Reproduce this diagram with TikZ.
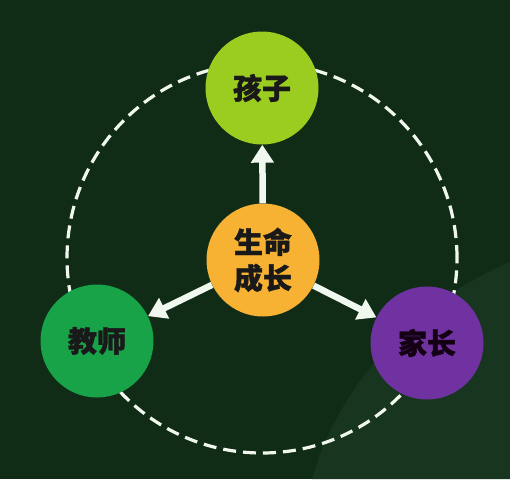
\documentclass[tikz,border=0pt]{standalone}
\usepackage{fontspec}
\newfontfamily\cjk{Noto Sans CJK SC}[BoldFeatures={FakeBold=1.2}]
\usetikzlibrary{arrows.meta}
\definecolor{bgdark}{RGB}{16,44,23}
\definecolor{bglight}{RGB}{24,54,31}
\definecolor{childc}{RGB}{155,205,32}
\definecolor{growthc}{RGB}{247,178,52}
\definecolor{teacherc}{RGB}{24,163,72}
\definecolor{parentc}{RGB}{112,50,160}
\definecolor{linkc}{RGB}{240,247,238}

\begin{document}
\begin{tikzpicture}[
    x=1pt, y=-1pt,
    role/.style={circle, minimum size=113pt, inner sep=0pt, text=black!90, align=center,
        font=\cjk\bfseries\fontsize{29}{36}\selectfont},
    link/.style={-{Triangle[width=22pt,length=18pt]}, line width=6.5pt, linkc},
    ring/.style={dash pattern=on 13pt off 7pt, line width=3.2pt, linkc}
]
    % Background
    \fill[bgdark] (0,0) rectangle (510,479);
    \useasboundingbox (0,0) rectangle (510,479);
    \fill[bglight] (312,479) .. controls (340,380) and (420,300) .. (510,262) -- (510,479) -- cycle;

    % Dashed ring
    \coordinate (ringc) at (262,258);
    \draw[ring] (ringc) circle[radius=195pt];

    % Roles
    \node[role, fill=growthc] (growth) at (263,260) {生命\\成长};
    \node[role, fill=childc] (child) at (262,88) {孩子};
    \node[role, fill=teacherc] (teacher) at (97,341) {教师};
    \node[role, fill=parentc, text=black!85!violet] (parent) at (427,343) {家长};

    % Links
    \draw[link] (growth) -- (child);
    \draw[link] (growth) -- (teacher);
    \draw[link] (growth) -- (parent);
\end{tikzpicture}
\end{document}
